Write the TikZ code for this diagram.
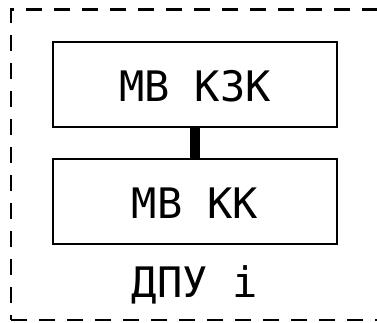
\documentclass[tikz,border=0pt]{standalone}
\usepackage{fontspec}
\newfontfamily\monofont{DejaVu Sans Mono}
\begin{document}
\begin{tikzpicture}[x=1pt,y=-1pt,
  unit/.style={draw, line width=2.5pt, minimum width=284pt, minimum height=85pt,
    inner sep=0pt, text height=34pt, text depth=0pt,
    font=\monofont\fontsize{42}{42}\selectfont},
  caption/.style={inner sep=0pt, font=\monofont\fontsize{42}{42}\selectfont},
  frame/.style={draw, line width=2.5pt, dash pattern=on 16pt off 12pt}]
  \useasboundingbox (0,0) rectangle (377,322);
  % outer dashed frame of the device
  \begin{scope}
    \clip (0,0) rectangle (377,322);
    \draw[frame, dash phase=11pt] (11,320) -- (11,9.5) -- (400,9.5);
    \draw[frame, dash phase=0pt] (11,320) -- (400,320);
  \end{scope}
  % modules
  \node[unit] (kzk) at (195,84.5) {МВ КЗК};
  \node[unit] (kk) at (195,201.5) {МВ КК};
  \draw[line width=10pt] (kzk.south) -- (kk.north);
  \node[caption, anchor=base] (dpu) at (195,297) {ДПУ i};
\end{tikzpicture}
\end{document}
